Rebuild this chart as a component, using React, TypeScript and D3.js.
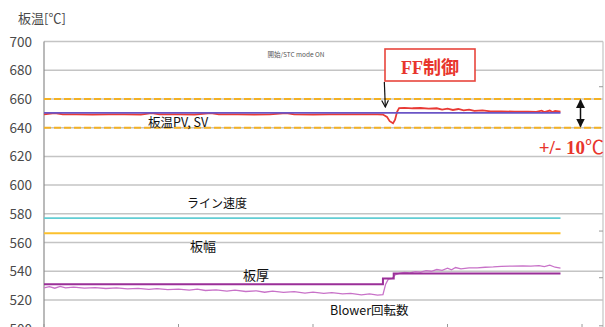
import React from "react";
import * as d3 from "d3";

// Y axis (plate temperature)
const yTicks = [500, 520, 540, 560, 580, 600, 620, 640, 660, 680, 700];
// Bottom tick positions (time)
const xTicks = [0, 100, 200, 300, 400];
// Secondary-axis tick marks on the right edge (in temperature units)
const rightTicks = [668.5, 568, 535.5, 502];

// Tolerance band around the setpoint
const bandUpper = 660;
const bandLower = 640;

// Setpoint SV
const svTimes = [0, 384];
const svValues = [650.3, 650.3];

// Measured plate temperature PV
const pvTimes = [0, 8, 14, 24, 36, 48, 60, 72, 80, 86, 100, 112, 124, 130, 144, 156, 168, 180, 186, 200, 212, 224, 236, 248, 252, 255, 257, 259.5, 261, 262.5, 264, 268, 274, 280, 286, 292, 296, 300, 304, 308, 312, 316, 320, 326, 332, 340, 350, 360, 366, 370, 372, 376, 378, 380, 384];
const pvValues = [649.3, 650.2, 649.2, 649.3, 649.1, 649.3, 649.2, 649.1, 650.1, 649.2, 649.3, 649.1, 650.2, 649.2, 649.2, 649.1, 649.3, 650.1, 649.2, 649.1, 649.3, 649.2, 649.3, 649.2, 649.1, 647.5, 644.5, 643.0, 645.5, 651.0, 653.6, 653.8, 653.5, 653.7, 653.3, 653.5, 652.6, 653.2, 652.3, 653.0, 652.0, 652.6, 651.7, 652.0, 651.4, 651.3, 651.2, 651.1, 651.0, 651.8, 650.9, 651.9, 650.9, 651.6, 651.1];

// Line speed
const speedTimes = [0, 384];
const speedValues = [577, 577];

// Plate width
const widthTimes = [0, 384];
const widthValues = [566.5, 566.5];

// Plate thickness (step change)
const thickTimes = [0, 252, 252, 260, 260, 384];
const thickValues = [531, 531, 535, 535, 538.5, 538.5];

// Blower speed
const blowerTimes = [0, 4, 8, 12, 16, 22, 30, 38, 46, 54, 62, 70, 78, 84, 92, 100, 108, 114, 120, 128, 136, 142, 150, 158, 164, 170, 178, 186, 194, 200, 208, 214, 222, 228, 236, 242, 248, 252, 254, 256, 259, 261, 264, 268, 272, 276, 280, 284, 288, 292, 296, 300, 303, 306, 310, 316, 322, 328, 334, 340, 348, 356, 362, 368, 372, 376, 380, 384];
const blowerValues = [528.5, 529.3, 528.2, 529.5, 528.4, 528.9, 528.3, 528.6, 528.0, 528.4, 527.8, 528.1, 527.4, 527.9, 527.2, 527.6, 526.8, 527.5, 526.6, 527.0, 526.2, 526.9, 525.9, 526.4, 525.4, 526.1, 525.3, 525.8, 524.8, 525.4, 524.6, 525.1, 524.2, 524.6, 523.6, 524.2, 523.4, 523.7, 531.0, 534.5, 535.0, 537.5, 538.5, 539.2, 538.8, 539.8, 539.4, 540.5, 540.0, 541.2, 540.6, 542.2, 541.0, 542.6, 541.6, 542.3, 542.4, 542.8, 543.0, 543.4, 543.6, 543.8, 543.6, 543.9, 543.2, 544.2, 542.8, 542.2];

const W = 605;
const H = 327;
const plotLeft = 44;
const plotRight = 603;

const x = d3.scaleLinear().domain([0, 415.6]).range([plotLeft, plotRight]);
const y = d3.scaleLinear().domain([500, 700]).range([328.7, 41.5]);

const toPts = (ts: number[], vs: number[]) => ts.map((t, i) => [t, vs[i]] as [number, number]);
const line = d3
  .line<[number, number]>()
  .x((d) => x(d[0]))
  .y((d) => y(d[1]));

const jp = "'Noto Sans CJK JP', 'Noto Sans', sans-serif";
const serif = "'Liberation Serif', 'DejaVu Serif', 'Noto Sans CJK JP', serif";

export default function App() {
  const ffX = x(256);
  return (
    <div style={{ position: "absolute", left: 0, top: 0 }}>
      <svg width={W} height={H} style={{ display: "block", background: "#fff" }}>
        <defs>
          <marker id="arrowOpen" viewBox="0 0 10 10" refX="9" refY="5" markerWidth="7" markerHeight="7" orient="auto">
            <path d="M1,1 L9,5 L1,9" fill="none" stroke="#111" strokeWidth="1.4" />
          </marker>
          <marker id="arrowFill" viewBox="0 0 10 10" refX="9" refY="5" markerWidth="6" markerHeight="6" orient="auto-start-reverse">
            <path d="M0,0 L10,5 L0,10 Z" fill="#111" />
          </marker>
        </defs>

        {/* grid */}
        {yTicks.map((v) => (
          <line key={v} x1={plotLeft} x2={plotRight} y1={y(v)} y2={y(v)} stroke="#c4c4c4" strokeWidth={1.5} />
        ))}
        {/* axes frame */}
        <line x1={plotLeft} x2={plotLeft} y1={y(700)} y2={H} stroke="#8c8c8c" strokeWidth={1.2} />
        <line x1={plotRight} x2={plotRight} y1={y(700)} y2={H} stroke="#c4c4c4" strokeWidth={1.2} />
        {rightTicks.map((v) => (
          <line key={v} x1={plotRight - 4} x2={plotRight} y1={y(v)} y2={y(v)} stroke="#999" strokeWidth={1} />
        ))}
        {xTicks.map((t) => (
          <line key={t} x1={x(t)} x2={x(t)} y1={324} y2={329} stroke="#999" strokeWidth={1} />
        ))}

        {/* y tick labels */}
        {yTicks.map((v) => (
          <text key={v} x={32} y={y(v) + 5} textAnchor="end" fontFamily={jp} fontSize={13.5} fill="#4a4a4a">
            {v}
          </text>
        ))}
        <text x={18} y={23} fontFamily={jp} fontSize={13} fill="#4a4a4a">
          板温[℃]
        </text>

        {/* tolerance band */}
        {[bandUpper, bandLower].map((v) => (
          <line key={v} x1={plotLeft} x2={plotRight} y1={y(v)} y2={y(v)} stroke="#f3b124" strokeWidth={2} strokeDasharray="7,3" />
        ))}

        {/* series */}
        <path d={line(toPts(speedTimes, speedValues)) || ""} fill="none" stroke="#62cdd3" strokeWidth={1.6} />
        <path d={line(toPts(widthTimes, widthValues)) || ""} fill="none" stroke="#fbc02d" strokeWidth={2} />
        <path d={line(toPts(blowerTimes, blowerValues)) || ""} fill="none" stroke="#c872c8" strokeWidth={1.3} />
        <path d={line(toPts(thickTimes, thickValues)) || ""} fill="none" stroke="#9a2f98" strokeWidth={2} />
        <path d={line(toPts(pvTimes, pvValues)) || ""} fill="none" stroke="#e83a35" strokeWidth={1.8} />
        <path d={line(toPts(svTimes, svValues)) || ""} fill="none" stroke="#6a55c6" strokeWidth={1.6} />

        {/* series labels */}
        <text x={148} y={127} fontFamily={jp} fontSize={12.5} fill="#111">板温PV, SV</text>
        <text x={187} y={208} fontFamily={jp} fontSize={12} fill="#111">ライン速度</text>
        <text x={190} y={251} fontFamily={jp} fontSize={13} fill="#111">板幅</text>
        <text x={243} y={280} fontFamily={jp} fontSize={13} fill="#111">板厚</text>
        <text x={330} y={315} fontFamily={jp} fontSize={12.5} fill="#111">Blower回転数</text>

        <text x={296} y={57} textAnchor="middle" fontFamily={jp} fontSize={6.5} fill="#555">開始/STC mode ON</text>

        {/* FF control annotation */}
        <rect x={385} y={49} width={90} height={32} fill="#fff" stroke="#e8453c" strokeWidth={1.6} />
        <text x={430} y={74} textAnchor="middle" fontFamily={serif} fontWeight="bold" fontSize={18} fill="#e8352c">
          FF<tspan fontFamily={jp}>制御</tspan>
        </text>
        <line x1={ffX - 4} y1={82} x2={ffX - 3} y2={107} stroke="#111" strokeWidth={1.2} markerEnd="url(#arrowOpen)" />

        {/* tolerance annotation */}
        <line x1={580.5} x2={580.5} y1={y(bandUpper) + 1} y2={y(bandLower) - 1} stroke="#111" strokeWidth={1.5} markerStart="url(#arrowFill)" markerEnd="url(#arrowFill)" />
        <text x={604} y={154} textAnchor="end" fontFamily={serif} fontWeight="bold" fontSize={19} fill="#e8352c">
          +/- 10<tspan fontFamily={jp} fontWeight="normal">℃</tspan>
        </text>
      </svg>
    </div>
  );
}
